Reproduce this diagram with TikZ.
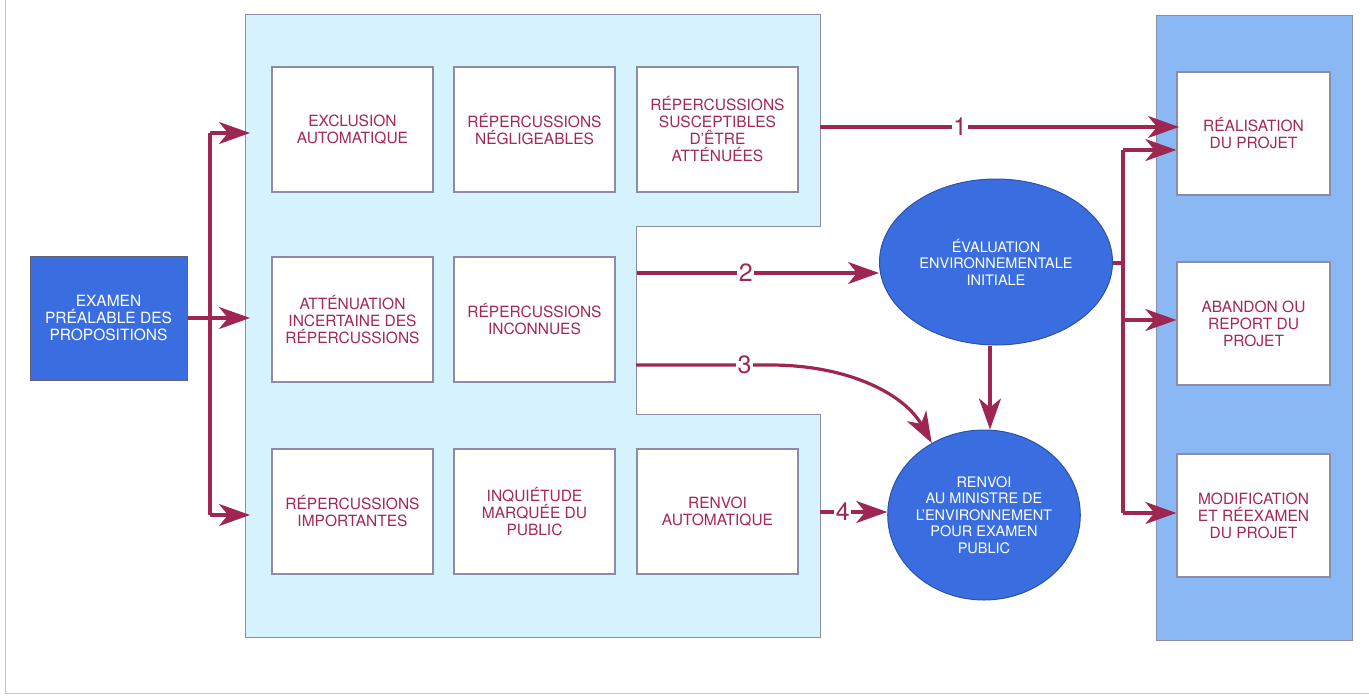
\documentclass[tikz,border=0pt]{standalone}
\usepackage{fontspec}
\setmainfont{TeX Gyre Heros}
\usetikzlibrary{arrows.meta,shapes.geometric}
\definecolor{maroon}{RGB}{158,38,82}
\definecolor{txt}{RGB}{165,40,82}
\definecolor{dblue}{RGB}{58,110,224}
\definecolor{lpanel}{RGB}{214,242,252}
\definecolor{rpanel}{RGB}{138,184,245}
\definecolor{edge}{RGB}{140,140,165}
\begin{document}
\begin{tikzpicture}[x=1pt,y=-1pt,
  wbox/.style={draw=edge, line width=1.2pt, fill=white, align=center, text=txt,
    font=\fontsize{15.5}{17}\selectfont, inner sep=2pt},
  bluebox/.style={draw=edge!70!black, line width=1pt, fill=dblue, text=white, align=center,
    font=\fontsize{15.5}{17}\selectfont, inner sep=2pt},
  ell/.style={ellipse, draw=dblue!75!black, line width=1pt, fill=dblue, text=white, align=center,
    font=\fontsize{14.5}{16.5}\selectfont, inner sep=0pt},
  arr/.style={draw=maroon, line width=3.2pt, -{Stealth[length=31pt,width=22pt,inset=9pt]}},
  ln/.style={draw=maroon, line width=3.2pt},
  num/.style={fill=white, text=maroon, font=\fontsize{25}{25}\selectfont, inner sep=1.5pt},
  frameln/.style={draw=gray!45, line width=0.8pt}
]
\useasboundingbox (0,0) rectangle (1369,696);
% outer frame
\draw[frameln] (5,0) -- (5,693) -- (1369,693);

% panels
\draw[draw=edge, line width=1pt, fill=lpanel]
  (245,14) -- (820,14) -- (820,226) -- (636,226) -- (636,414) -- (820,414) -- (820,637) -- (245,637) -- cycle;
\draw[draw=edge, line width=1pt, fill=rpanel] (1156,15) rectangle (1352,640);

% left box
\node[bluebox, minimum width=157pt, minimum height=124pt] (exam) at (108.5,318) {EXAMEN\\PRÉALABLE DES\\PROPOSITIONS};

% white boxes
\tikzset{wsz/.style={wbox, minimum width=161pt, minimum height=125pt}}
\node[wsz] (excl) at (352.5,129.5) {EXCLUSION\\AUTOMATIQUE};
\node[wsz] (negl) at (534.5,129.5) {RÉPERCUSSIONS\\NÉGLIGEABLES};
\node[wsz] (susc) at (717.5,129.5) {RÉPERCUSSIONS\\SUSCEPTIBLES\\D’ÊTRE\\ATTÉNUÉES};
\node[wsz] (incert) at (352.5,319.5) {ATTÉNUATION\\INCERTAINE DES\\RÉPERCUSSIONS};
\node[wsz] (incon) at (534.5,319.5) {RÉPERCUSSIONS\\INCONNUES};
\node[wsz] (impo) at (352.5,511.5) {RÉPERCUSSIONS\\IMPORTANTES};
\node[wsz] (inqu) at (534.5,511.5) {INQUIÉTUDE\\MARQUÉE DU\\PUBLIC};
\node[wsz] (renv) at (717.5,511.5) {RENVOI\\AUTOMATIQUE};

\tikzset{rsz/.style={wbox, minimum width=153pt, minimum height=123pt}}
\node[rsz] (real) at (1253.5,133.5) {RÉALISATION\\DU PROJET};
\node[rsz] (aban) at (1253.5,323.5) {ABANDON OU\\REPORT DU\\PROJET};
\node[rsz] (modi) at (1253.5,515.5) {MODIFICATION\\ET RÉEXAMEN\\DU PROJET};

% ellipses
\node[ell, minimum width=233pt, minimum height=166pt] (e1) at (996,262) {ÉVALUATION\\ENVIRONNEMENTALE\\INITIALE};
\node[ell, minimum width=182pt, minimum height=170pt] (e2) at (984,515) {RENVOI\\AU MINISTRE DE\\L’ENVIRONNEMENT\\POUR EXAMEN\\PUBLIC};

% left connectors
\coordinate (lt) at (210,133);
\coordinate (lbo) at (210,515);
\coordinate (pl1) at (250,133);
\coordinate (pl2) at (250,318);
\coordinate (pl3) at (250,515);
\draw[arr] (exam.east) -- (pl2);
\draw[ln] (lt) -- (lbo);
\draw[arr] (lt) -- (pl1);
\draw[arr] (lbo) -- (pl3);

% numbered connectors
\coordinate (s1) at (820,127);
\coordinate (t1) at (1179,127);
\draw[arr] (s1) -- node[num, pos=0.39]{1} (t1);
\coordinate (s2) at (637,273);
\draw[arr] (s2) -- node[num, pos=0.45]{2} (s2 -| e1.west);
\coordinate (s3) at (636,365);
\coordinate (m3) at (770,365);
\draw[arr] (s3) -- node[num, pos=0.81]{3} (m3) .. controls (850,365) and (905,395) .. (e2.126);
\coordinate (s4) at (820,512);
\draw[arr] (s4) -- node[num, pos=0.34]{4} (s4 -| e2.west);

% e1 -> e2
\coordinate (mx) at (990,0);
\draw[arr] (e1.south -| mx) -- (e2.north -| mx);

% right connectors
\coordinate (rv) at (1123,263);
\coordinate (rt) at (1123,150);
\coordinate (rb) at (1123,513);
\coordinate (ra) at (1123,320);
\draw[ln] (e1.east |- rv) -- (rv);
\draw[ln] (rt) -- (rb);
\draw[arr] (rt) -- (real.west |- rt);
\draw[arr] (ra) -- (aban.west |- ra);
\draw[arr] (rb) -- (modi.west |- rb);
\end{tikzpicture}
\end{document}
